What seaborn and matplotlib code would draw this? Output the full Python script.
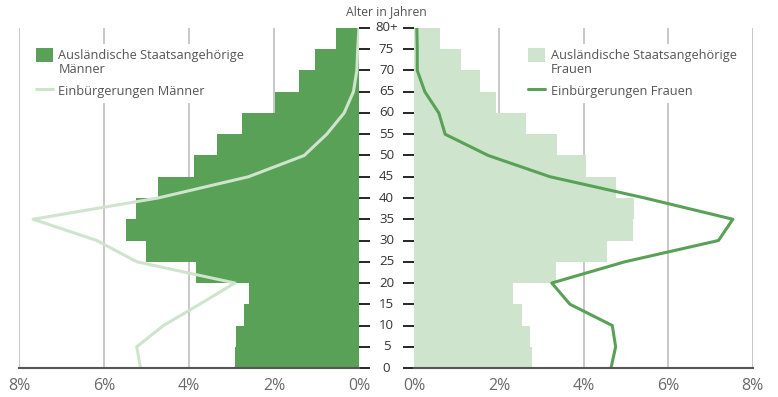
import numpy as np
import pandas as pd
import matplotlib.pyplot as plt
import seaborn as sns
from matplotlib.patches import Patch, Rectangle
from matplotlib.lines import Line2D
from matplotlib.legend_handler import HandlerPatch

# age groups (lower bound of each 5-year bar) and points for the lines
age_lower = [0, 5, 10, 15, 20, 25, 30, 35, 40, 45, 50, 55, 60, 65, 70, 75]
age_points = [0, 5, 10, 15, 20, 25, 30, 35, 40, 45, 50, 55, 60, 65, 70, 75, 80]
age_labels = ["0", "5", "10", "15", "20", "25", "30", "35", "40",
              "45", "50", "55", "60", "65", "70", "75", "80+"]

# share in % - foreign nationals (bars)
men_foreign = [2.92, 2.89, 2.71, 2.59, 3.84, 5.01, 5.48, 5.25,
               4.73, 3.88, 3.34, 2.75, 1.98, 1.41, 1.04, 0.54]
women_foreign = [2.78, 2.73, 2.55, 2.34, 3.35, 4.55, 5.18, 5.20,
                 4.76, 4.05, 3.38, 2.64, 1.94, 1.55, 1.10, 0.61]

# share in % - naturalisations (lines)
men_natural = [5.14, 5.23, 4.60, 3.75, 2.92, 5.23, 6.17, 7.67, 4.73,
               2.60, 1.29, 0.76, 0.35, 0.13, 0.05, 0.03, 0.0]
women_natural = [4.65, 4.76, 4.68, 3.68, 3.25, 4.98, 7.19, 7.53, 5.45,
                 3.21, 1.75, 0.73, 0.58, 0.25, 0.07, 0.07, 0.06]

xticks = [0, 2, 4, 6, 8]
xlabels = ["0%", "2%", "4%", "6%", "8%"]

DARK = "#58a157"
LIGHT = "#cfe4cd"
GRID = "#c8c8c8"
TXT = "#555555"

sns.set_style("white")
plt.rcParams["font.family"] = ["Open Sans", "DejaVu Sans"]

bars = pd.DataFrame({"mid": np.array(age_lower) + 2.5,
                     "men": men_foreign, "women": women_foreign})
lines = pd.DataFrame({"age": age_points, "men": men_natural, "women": women_natural})

fig = plt.figure(figsize=(7.78, 3.97), dpi=100)
ax_l = fig.add_axes([0.0244, 0.073, 0.437, 0.8565])
ax_r = fig.add_axes([0.5325, 0.073, 0.435, 0.8565])

sns.barplot(data=bars, x="men", y="mid", orient="y", native_scale=True,
            width=1, color=DARK, saturation=1, linewidth=0, errorbar=None, ax=ax_l)
sns.lineplot(data=lines, x="men", y="age", orient="y", color=LIGHT, lw=2.2, ax=ax_l)

sns.barplot(data=bars, x="women", y="mid", orient="y", native_scale=True,
            width=1, color=LIGHT, saturation=1, linewidth=0, errorbar=None, ax=ax_r)
sns.lineplot(data=lines, x="women", y="age", orient="y", color=DARK, lw=2.2, ax=ax_r)

for ax, side in [(ax_l, "right"), (ax_r, "left")]:
    ax.set_ylim(0, 80)
    ax.set_xlabel("")
    ax.set_ylabel("")
    ax.set_axisbelow(True)
    ax.grid(axis="x", color=GRID, lw=1.4)
    ax.grid(axis="y", visible=False)
    for s in ["top", "left", "right"]:
        ax.spines[s].set_visible(False)
    ax.spines["bottom"].set_color(TXT)
    ax.spines["bottom"].set_linewidth(1.5)
    ax.set_xticks(xticks)
    ax.set_xticklabels(xlabels)
    ax.tick_params(axis="x", length=0, pad=7, labelsize=11.5, labelcolor="#6a6a6a")
    ax.set_yticks(age_points)
    ax.set_yticklabels([])
    ax.yaxis.set_ticks_position(side)
    ax.tick_params(axis="y", direction="out", length=8, width=1.4)
    for a, t in zip(age_points, ax.yaxis.get_major_ticks()):
        col = TXT if a % 20 == 0 else GRID
        t.tick1line.set_color(col)
        t.tick2line.set_color(col)

ax_l.set_xlim(8, 0)
ax_r.set_xlim(0, 8)

# age labels in the gap between both halves
for a, lab in zip(age_points, age_labels):
    ax_l.text(1.081, a, lab, transform=ax_l.get_yaxis_transform(),
              ha="center", va="center", fontsize=9.5, color="#333333")
ax_l.text(1.081, 1.028, "Alter in Jahren", transform=ax_l.transAxes,
          ha="center", va="bottom", fontsize=8.8, color=TXT)


# square sits next to the first line of a two-line label
def top_square(legend, orig_handle, xdescent, ydescent, width, height, fontsize):
    return Rectangle((-xdescent, -ydescent + 0.6 * height), width, height)


def add_legend(ax, handles, labels, x):
    leg = ax.legend(handles, labels, loc="upper left", bbox_to_anchor=(x, 0.972),
                    frameon=True, facecolor="white", edgecolor="none", framealpha=1,
                    fontsize=9.2, labelcolor="#555555", handlelength=1.3,
                    handleheight=1.3, handletextpad=0.45, labelspacing=0.65,
                    handler_map={Patch: HandlerPatch(patch_func=top_square)})
    for t in leg.get_texts():
        t.set_linespacing(1.05)


add_legend(ax_l, [Patch(color=DARK, lw=0), Line2D([], [], color=LIGHT, lw=2.2)],
           ["Ausländische Staatsangehörige\nMänner", "Einbürgerungen Männer"], 0.016)
add_legend(ax_r, [Patch(color=LIGHT, lw=0), Line2D([], [], color=DARK, lw=2.2)],
           ["Ausländische Staatsangehörige\nFrauen", "Einbürgerungen Frauen"], 0.303)

fig.savefig("out.png", dpi=100)
